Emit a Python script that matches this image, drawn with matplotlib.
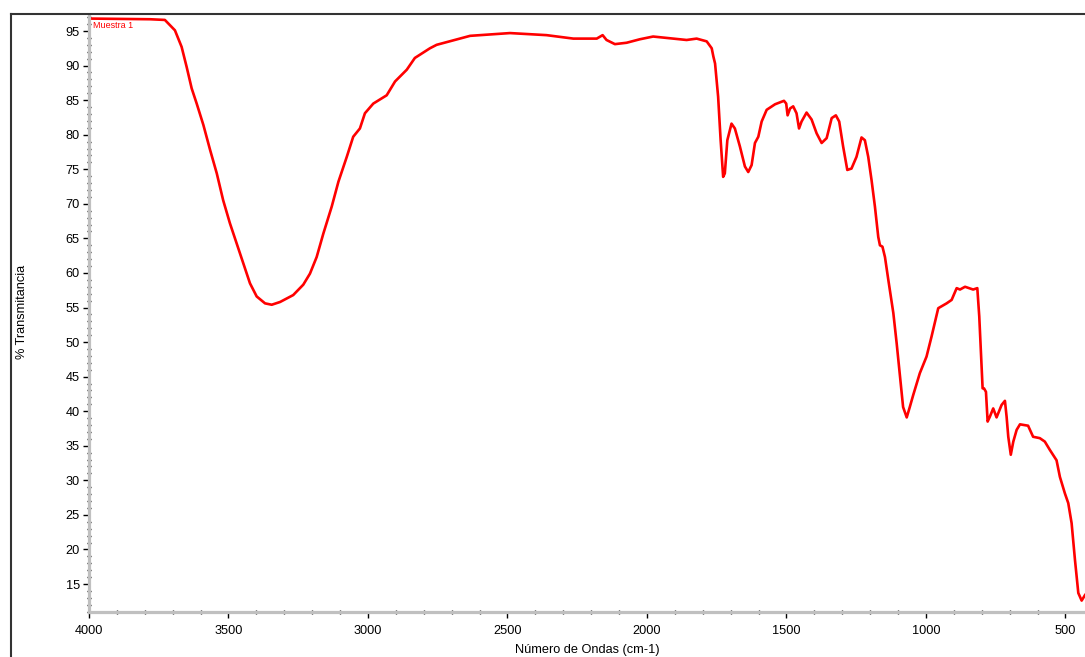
import matplotlib
matplotlib.use("Agg")
import matplotlib.pyplot as plt
from matplotlib.lines import Line2D
from matplotlib.ticker import MultipleLocator

plt.rcParams['font.family'] = ['Liberation Sans', 'DejaVu Sans']

# Wavenumber (cm-1) and % transmittance
wavenumber = [4000, 3781, 3728, 3692, 3668, 3650, 3632, 3614, 3590, 3566, 3542, 3519,
              3495, 3471, 3447, 3423, 3399, 3369, 3345, 3315, 3268, 3232, 3208, 3184,
              3160, 3130, 3106, 3076, 3053, 3029, 3011, 2981, 2933, 2903, 2861, 2832,
              2778, 2754, 2634, 2491, 2360, 2264, 2180, 2159, 2145, 2115, 2073, 2026,
              1978, 1906, 1858, 1822, 1786, 1768, 1762, 1756, 1745, 1736, 1727, 1721,
              1712, 1697, 1685, 1667, 1649, 1637, 1625, 1613, 1601, 1589, 1571, 1541,
              1509, 1501, 1496, 1487, 1476, 1464, 1455, 1446, 1428, 1410, 1392, 1374,
              1356, 1338, 1323, 1311, 1297, 1282, 1267, 1249, 1231, 1219, 1207, 1195,
              1183, 1171, 1165, 1156, 1147, 1135, 1117, 1105, 1093, 1082, 1069, 1058,
              1046, 1022, 998, 980, 956, 926, 908, 890, 878, 860, 831, 816, 809, 804,
              797, 792, 785, 779, 771, 759, 747, 729, 717, 711, 705, 696, 687, 675,
              663, 634, 616, 592, 574, 556, 532, 520, 502, 490, 478, 466, 454, 442, 430]
transmittance = [96.8, 96.7, 96.6, 95.1, 92.7, 89.8, 86.7, 84.5, 81.4, 77.8, 74.4, 70.5,
                 67.2, 64.3, 61.4, 58.5, 56.6, 55.6, 55.4, 55.8, 56.8, 58.3, 59.9, 62.3,
                 65.7, 69.6, 73.2, 76.8, 79.7, 80.9, 83.1, 84.5, 85.7, 87.7, 89.4, 91.1,
                 92.5, 93.0, 94.3, 94.7, 94.4, 93.9, 93.9, 94.4, 93.7, 93.1, 93.3, 93.8,
                 94.2, 93.9, 93.7, 93.9, 93.5, 92.5, 91.3, 90.3, 85.5, 79.2, 73.9, 74.4,
                 79.2, 81.6, 80.9, 78.3, 75.4, 74.6, 75.6, 78.8, 79.7, 81.9, 83.6, 84.4,
                 84.9, 84.5, 82.8, 83.8, 84.1, 83.1, 80.9, 81.9, 83.2, 82.2, 80.2, 78.8,
                 79.5, 82.4, 82.8, 81.9, 78.3, 74.9, 75.1, 76.8, 79.6, 79.2, 76.8, 73.4,
                 69.6, 65.2, 64.0, 63.8, 62.3, 59.0, 54.2, 49.8, 45.0, 40.6, 39.1, 40.6,
                 42.3, 45.5, 47.9, 50.8, 54.9, 55.6, 56.1, 57.8, 57.6, 58.0, 57.6, 57.8,
                 53.7, 49.3, 43.3, 43.3, 42.8, 38.5, 39.2, 40.4, 39.1, 40.9, 41.5, 39.2,
                 36.3, 33.7, 35.6, 37.3, 38.1, 37.9, 36.3, 36.1, 35.6, 34.4, 32.9, 30.5,
                 28.1, 26.7, 23.8, 18.5, 13.7, 12.6, 13.4]

series_label = "Muestra 1"
x_label = "Número de Ondas (cm-1)"
y_label = "% Transmitancia"

fig = plt.figure(figsize=(10.85, 6.57), dpi=100)
fig.patch.set_facecolor('white')
ax = fig.add_axes([89 / 1085, 1 - 612 / 657, 1 - 89 / 1085, (612 - 16) / 657])

ax.plot(wavenumber, transmittance, color='#ff0000', lw=1.9, solid_joinstyle='round')

ax.set_xlim(4000, 430)
ax.set_ylim(10.95, 97.17)
ax.xaxis.set_major_locator(MultipleLocator(500))
ax.xaxis.set_minor_locator(MultipleLocator(100))
ax.yaxis.set_major_locator(MultipleLocator(5))
ax.yaxis.set_minor_locator(MultipleLocator(1))

for s in ['top', 'right']:
    ax.spines[s].set_visible(False)
for s in ['left', 'bottom']:
    ax.spines[s].set_color('#c0c0c0')
    ax.spines[s].set_linewidth(2.3)

ax.tick_params(which='major', direction='out', length=4, width=1, color='black',
               labelsize=9.2, pad=2.5)
ax.tick_params(axis='x', which='major', pad=5)
ax.tick_params(which='minor', direction='inout', length=2.5, width=1, color='black')

ax.set_xlabel(x_label, fontsize=9.2, va='center')
ax.set_ylabel(y_label, fontsize=9.2, va='center')
ax.xaxis.set_label_coords(0.5, (612 - 650) / 596)
ax.yaxis.set_label_coords((22 - 89) / 996, 0.503)

ax.text(0.004, 0.992, series_label, transform=ax.transAxes, color='#ff0000',
        fontsize=6.5, ha='left', va='top')

# outer window frame
fig.add_artist(Line2D([11 / 1085, 11 / 1085], [0, 1 - 14 / 657], transform=fig.transFigure,
                      color='#333333', lw=1.5))
fig.add_artist(Line2D([11 / 1085, 1], [1 - 14 / 657, 1 - 14 / 657], transform=fig.transFigure,
                      color='#333333', lw=1.5))

fig.savefig('out.png', dpi=100, facecolor='white')
